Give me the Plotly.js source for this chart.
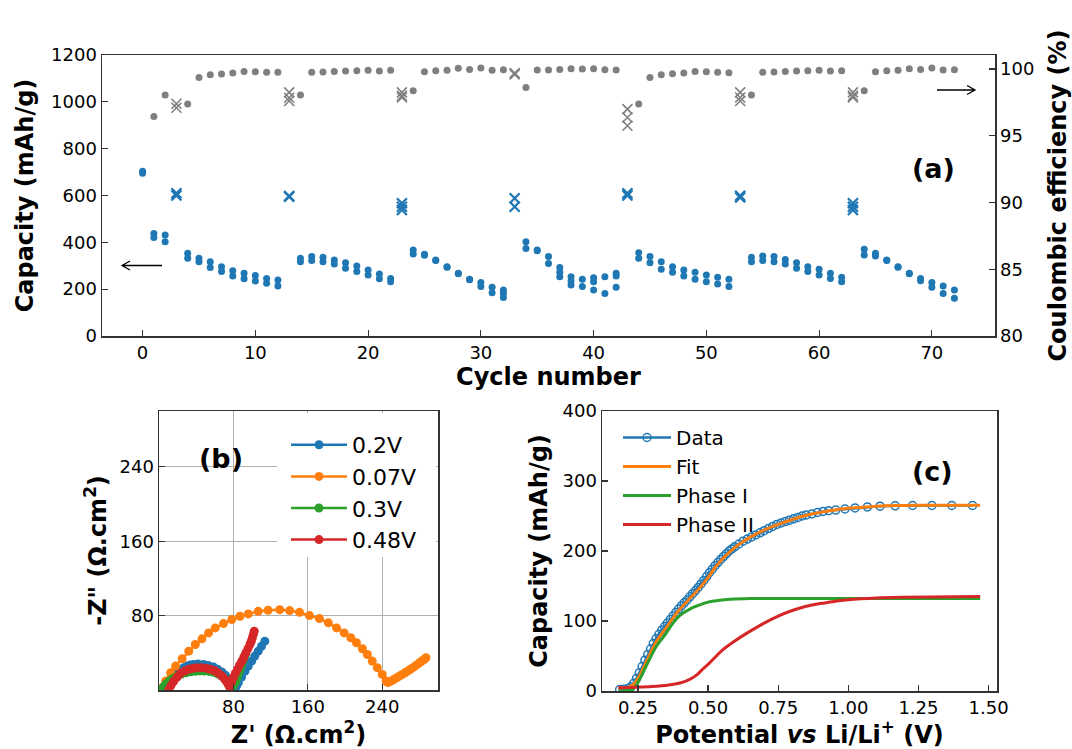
<!DOCTYPE html>
<html>
<head>
<meta charset="utf-8">
<script src="https://cdn.plot.ly/plotly-3.0.1.min.js"></script>
<style>
html,body{margin:0;padding:0;background:#fff;}
#chart{width:1072px;height:749px;}
</style>
</head>
<body>
<div id="chart"></div>
<script>
// ---------- Panel (a): rate capability ----------
const dotCycles = [0,1,2,4,5,6,7,8,9,10,11,12,14,15,16,17,18,19,20,21,22,24,25,26,27,28,29,30,31,32,34,35,36,37,38,39,40,41,42,44,45,46,47,48,49,50,51,52,54,55,56,57,58,59,60,61,62,64,65,66,67,68,69,70,71,72];
const capUpper = [704,438,431,353,332,317,296,279,268,258,246,239,332,339,336,325,313,299,282,265,246,367,349,325,296,268,242,228,208,196,403,367,339,292,253,242,249,253,268,356,339,317,296,282,272,260,251,242,336,342,339,327,313,296,285,268,251,370,353,325,296,268,246,229,213,196];
const capLower = [695,421,403,332,317,293,275,256,245,235,225,213,317,322,317,307,289,275,260,245,232,350,345,322,294,266,240,211,185,164,374,364,310,253,218,211,196,182,208,332,313,285,272,256,242,232,222,211,317,322,317,307,289,275,260,246,232,346,342,322,294,266,236,208,182,161];
const extraCycles = [32,37,38,40,42];
const extraCap = [182,272,235,232,256];

const ceCycles = [1,2,4,5,6,7,8,9,10,11,12,14,15,16,17,18,19,20,21,22,24,25,26,27,28,29,30,31,32,34,35,36,37,38,39,40,41,42,44,45,46,47,48,49,50,51,52,54,55,56,57,58,59,60,61,62,64,65,66,67,68,69,70,71,72];
const ceValues = [96.44,98.05,97.37,99.37,99.57,99.62,99.70,99.82,99.80,99.75,99.75,98.05,99.75,99.77,99.82,99.85,99.87,99.90,99.85,99.90,98.37,99.80,99.87,99.90,100.05,99.97,100.07,99.90,99.95,98.62,99.92,99.92,99.97,100.02,100.00,100.02,99.95,99.92,97.37,99.37,99.57,99.65,99.70,99.82,99.80,99.75,99.72,98.05,99.75,99.77,99.82,99.85,99.87,99.90,99.85,99.87,98.37,99.80,99.87,99.90,100.02,99.97,100.07,99.92,99.95];

const crossCapCycles = [3,3,13,13,23,23,23,33,33,43,43,53,53,63,63,63];
const crossCap = [609,600,595,598,567,552,538,588,552,609,600,599,592,567,552,538];
const crossCeCycles = [3,3,13,13,13,23,23,23,33,33,43,43,43,53,53,53,63,63,63];
const crossCe = [97.4,97.1,98.25,97.85,97.6,98.25,98.0,97.87,99.7,99.6,97.0,96.37,95.75,98.25,97.87,97.6,98.25,98.0,97.87];

// ---------- Panel (b): Nyquist plots ----------
const zRe_02 = [3,5,7.1,10,13,16,20,23,26.7,30,33.5,37.3,42,48,53,58.7,63,67.6,71.5,74.7,77.3,79.3,81.8,83.5,85.3,88.8,92.5,96,99.6,103,106.7,110.2,113.8];
const zIm_02 = [1,3,5,8.5,12,15.7,19.5,22,24,25.7,26.8,27.5,28,27.5,26.3,24.6,22.2,19.3,15.8,12.2,8.5,5,1.5,4.5,7.9,14,20.4,25.7,31,36.5,41.8,47,52.5];

const zRe_007 = [3.6,7.1,12.5,17.8,24.9,32,39.1,46.2,53.3,60.5,69.3,78.2,87.1,96,106.7,117.3,129.8,140.5,151.1,161.8,172.5,182.1,190.9,199.1,206.3,212.3,218.7,224,229.3,234.7,240,244.3,246,249,252,255,258,261,264,267,270,273,276,279,282,285,287];
const zIm_007 = [2.6,9.6,18.6,25.7,33.6,41.8,48.9,55,61.4,66.8,71.4,75.7,79.3,81.8,84.6,85.7,86.4,85.4,83.5,80,76.8,72.2,66.8,61.4,56.1,50.8,44.3,38.2,31.1,24,16.8,9.6,8,9.2,11,12.8,14.6,16.4,18.2,20,22,24,26.2,28.4,30.6,32.8,34.7];

const zRe_03 = [3,5.5,8,11.5,15,19.5,24,29,34,39,44,49,54,58.5,63,66.5,70,72.5,75,76.5,78,80,82,83.5,85,86.5,88,89.5,91,93];
const zIm_03 = [1,4,7,10,12.5,15,17,18.5,19.5,20.2,20.5,20.4,20,19,17.5,15.5,13,10,7,4.5,2,5,8,12,16,20.5,25,29,33,38];

const zRe_048 = [10.7,13,16,19.5,23.1,27.5,32,36.5,41,46,51.6,56,60.5,64,67.6,70.5,73,74.5,75.7,78,80,82,84.3,86.6,89,91.3,93.5,95.7,97.8,99.2,100.3,101.4,102.4];
const zIm_048 = [0.7,5,9.6,14,17.9,20.3,22.2,23.3,24,23.9,23.2,22,20.4,18,15,11.8,8.6,6,3.6,8.5,13.3,17.8,22.2,26.6,31,35.5,40,44.5,49,52.5,56,59.6,63.2];

// ---------- Panel (c): capacity vs potential ----------
const potData = [0.185,0.20,0.215,0.225,0.235,0.245,0.255,0.265,0.275,0.285,0.295,0.305,0.315,0.325,0.335,0.345,0.355,0.365,0.375,0.385,0.395,0.405,0.415,0.425,0.435,0.445,0.455,0.465,0.475,0.485,0.495,0.505,0.515,0.525,0.535,0.545,0.555,0.565,0.575,0.585,0.595,0.61,0.625,0.64,0.655,0.67,0.685,0.70,0.715,0.73,0.745,0.76,0.775,0.79,0.805,0.82,0.835,0.85,0.87,0.89,0.91,0.93,0.955,0.988,1.024,1.068,1.113,1.167,1.229,1.298,1.369,1.443];
const capData = [2,2.5,3.5,6,11,18,26,35,44,52,60,68,75,81,87,92,97,102,107,112,117,121.5,126,130,134.5,139,143.5,148,153,158,163.5,169,174,179,183.5,188,192,196,200,203,206,210,214,217,220,223,226,229,232,235,238,240,242,244,246,248,250,251.5,253,255,256.5,257.5,258.5,260,261.5,263,264,264.5,265,265,265,265];

const potFit = [0.18,0.21,0.23,0.25,0.28,0.316,0.35,0.38,0.40,0.435,0.47,0.50,0.53,0.56,0.59,0.62,0.66,0.70,0.75,0.80,0.85,0.90,0.95,1.00,1.10,1.20,1.30,1.47];
const capFit = [4.5,5,8,18,42,71,90,107,117,132,147,162,179,192,203,212,222,230,238,245,251,255,258.5,261,264,265,265.5,265.5];

const potPhase1 = [0.18,0.21,0.23,0.25,0.28,0.316,0.35,0.375,0.40,0.435,0.47,0.50,0.54,0.58,0.65,0.80,1.00,1.20,1.47];
const capPhase1 = [0,0.5,2,12,36,64,82,97,108,117,123,127,129.5,131,132,132,132,132,132];

const potPhase2 = [0.18,0.24,0.30,0.36,0.40,0.435,0.46,0.48,0.50,0.52,0.55,0.59,0.64,0.70,0.75,0.80,0.85,0.90,0.95,1.00,1.10,1.20,1.47];
const capPhase2 = [4.8,5.3,6.3,8.5,11.5,16.7,23,31,38,46,58,70,83,97,107,115,121,125,128,130.5,133,134,135];

const legendB = ['0.2V','0.07V','0.3V','0.48V'];
const legendC = ['Data','Fit','Phase I','Phase II'];

// ---------- styling ----------
const C = {blue:'#1f77b4', orange:'#ff7f0e', green:'#2ca02c', red:'#d62728', gray:'#7f7f7f'};
const W = 1072, H = 749;
const FONT = 'DejaVu Sans';
const px = v => v / W;
const py = v => 1 - v / H;

const traces = [];
// panel a
[capUpper, capLower].forEach(arr => traces.push({
  x: dotCycles, y: arr, type: 'scatter', mode: 'markers', xaxis: 'x', yaxis: 'y',
  marker: {color: C.blue, size: 7}, showlegend: false
}));
traces.push({x: extraCycles, y: extraCap, type: 'scatter', mode: 'markers', xaxis: 'x', yaxis: 'y',
  marker: {color: C.blue, size: 7}, showlegend: false});
traces.push({x: crossCapCycles, y: crossCap, type: 'scatter', mode: 'markers', xaxis: 'x', yaxis: 'y',
  marker: {symbol: 'x-thin', color: C.blue, size: 10, line: {color: C.blue, width: 2.2}}, showlegend: false});
traces.push({x: ceCycles, y: ceValues, type: 'scatter', mode: 'markers', xaxis: 'x', yaxis: 'y2',
  marker: {color: C.gray, size: 7}, showlegend: false});
traces.push({x: crossCeCycles, y: crossCe, type: 'scatter', mode: 'markers', xaxis: 'x', yaxis: 'y2',
  marker: {symbol: 'x-thin', color: C.gray, size: 10, line: {color: C.gray, width: 1.6}}, showlegend: false});

// panel b
const bSeries = [[zRe_02, zIm_02, C.blue],[zRe_007, zIm_007, C.orange],[zRe_03, zIm_03, C.green],[zRe_048, zIm_048, C.red]];
bSeries.forEach((s, i) => traces.push({
  x: s[0], y: s[1], type: 'scatter', mode: 'lines+markers', name: legendB[i],
  xaxis: 'x2', yaxis: 'y3', legend: 'legend',
  line: {color: s[2], width: 2.5}, marker: {color: s[2], size: 9}
}));

// panel c
traces.push({x: potData, y: capData, type: 'scatter', mode: 'lines+markers', name: legendC[0],
  xaxis: 'x3', yaxis: 'y4', legend: 'legend2',
  line: {color: C.blue, width: 2.5}, marker: {symbol: 'circle-open', color: C.blue, size: 8, line: {width: 1.5, color: C.blue}}});
traces.push({x: potFit, y: capFit, type: 'scatter', mode: 'lines', name: legendC[1], line: {color: C.orange, width: 3, shape: 'spline'},
  xaxis: 'x3', yaxis: 'y4', legend: 'legend2'});
traces.push({x: potPhase1, y: capPhase1, type: 'scatter', mode: 'lines', name: legendC[2], line: {color: C.green, width: 3, shape: 'spline'},
  xaxis: 'x3', yaxis: 'y4', legend: 'legend2'});
traces.push({x: potPhase2, y: capPhase2, type: 'scatter', mode: 'lines', name: legendC[3], line: {color: C.red, width: 3, shape: 'spline'},
  xaxis: 'x3', yaxis: 'y4', legend: 'legend2'});

const frame = '#333333';
const baseAxis = {
  showline: true, linecolor: frame, linewidth: 1.5, mirror: true,
  ticks: 'inside', ticklen: 6, tickwidth: 1.2, tickcolor: frame,
  showgrid: false, zeroline: false, automargin: false,
  tickfont: {family: FONT, size: 18, color: '#000'}
};
const titleFont = {family: FONT, size: 24, color: '#000'};

// open "->" style arrows (paper coordinates from pixel positions)
function arrowPath(xHead, xTail, yPix) {
  const dir = xTail > xHead ? 1 : -1;
  const hx = xHead + dir * 8;
  return 'M' + px(xTail) + ',' + py(yPix) + ' L' + px(xHead) + ',' + py(yPix) +
         ' M' + px(hx) + ',' + py(yPix - 4.5) + ' L' + px(xHead) + ',' + py(yPix) + ' L' + px(hx) + ',' + py(yPix + 4.5);
}

const layout = {
  width: W, height: H,
  margin: {l: 0, r: 0, t: 0, b: 0},
  paper_bgcolor: '#fff', plot_bgcolor: 'rgba(0,0,0,0)',
  font: {family: FONT, color: '#000'},
  xaxis: Object.assign({}, baseAxis, {domain: [px(102), px(995)], range: [-3.6, 75.6], dtick: 10, tick0: 0, anchor: 'y',
    title: {text: '<b>Cycle number</b>', font: titleFont, standoff: 4}}),
  yaxis: Object.assign({}, baseAxis, {domain: [py(336), py(55)], range: [0, 1200], dtick: 200, anchor: 'x', mirror: false,
    title: {text: '<b>Capacity (mAh/g)</b>', font: titleFont, standoff: 10}}),
  yaxis2: Object.assign({}, baseAxis, {overlaying: 'y', side: 'right', anchor: 'x', range: [80, 101.05], dtick: 5, mirror: false,
    title: {text: '<b>Coulombic efficiency (%)</b>', font: titleFont, standoff: 15}}),
  xaxis2: Object.assign({}, baseAxis, {domain: [px(159), px(438)], range: [0, 300], tickvals: [80,160,240], anchor: 'y3',
    showgrid: true, gridcolor: '#b0b0b0', gridwidth: 1.2,
    title: {text: "<b>Z' (Ω.cm<sup>2</sup>)</b>", font: titleFont, standoff: 4}}),
  yaxis3: Object.assign({}, baseAxis, {domain: [py(690), py(411)], range: [0, 300], tickvals: [80,160,240], anchor: 'x2',
    showgrid: true, gridcolor: '#b0b0b0', gridwidth: 1.2,
    title: {text: '<b>-Z" (Ω.cm<sup>2</sup>)</b>', font: titleFont, standoff: 6}}),
  xaxis3: Object.assign({}, baseAxis, {domain: [px(602), px(997)], range: [0.122, 1.53], dtick: 0.25, tick0: 0.25, tickformat: '.2f', anchor: 'y4',
    title: {text: '<b>Potential <i>vs</i> Li/Li<sup>+</sup> (V)</b>', font: titleFont, standoff: 4}}),
  yaxis4: Object.assign({}, baseAxis, {domain: [py(691), py(411)], range: [0, 400], dtick: 100, anchor: 'x3',
    title: {text: '<b>Capacity (mAh/g)</b>', font: titleFont, standoff: 8}}),
  legend: {x: px(286), y: py(424), xanchor: 'left', yanchor: 'top', bgcolor: 'rgba(0,0,0,0)', borderwidth: 0,
    font: {family: FONT, size: 22, color: '#000'}, itemwidth: 56, tracegroupgap: 0},
  legend2: {x: px(618), y: py(418), xanchor: 'left', yanchor: 'top', bgcolor: 'rgba(0,0,0,0)', borderwidth: 0,
    font: {family: FONT, size: 20, color: '#000'}, itemwidth: 48},
  shapes: [
    {type: 'rect', xref: 'x2 domain', yref: 'y3 domain', x0: 0.423, x1: 0.993, y0: 0.477, y1: 0.993, layer: 'above',
      fillcolor: '#ffffff', line: {width: 0}},
    {type: 'path', xref: 'paper', yref: 'paper', path: arrowPath(122, 162, 265.5), line: {color: '#000', width: 1.3}},
    {type: 'path', xref: 'paper', yref: 'paper', path: arrowPath(975, 937, 90), line: {color: '#000', width: 1.3}}
  ],
  annotations: [
    {text: '<b>(a)</b>', x: px(957), y: py(151), xref: 'paper', yref: 'paper', showarrow: false, font: {family: FONT, size: 27, color: '#000'}},
    {text: '<b>(b)</b>', x: px(197), y: py(458), xref: 'paper', yref: 'paper', showarrow: false, font: {family: FONT, size: 27, color: '#000'}},
    {text: '<b>(c)</b>', x: px(955), y: py(471), xref: 'paper', yref: 'paper', showarrow: false, font: {family: FONT, size: 27, color: '#000'}}
  ]
};

Plotly.newPlot('chart', traces, layout, {staticPlot: true, displayModeBar: false});
</script>
</body>
</html>
